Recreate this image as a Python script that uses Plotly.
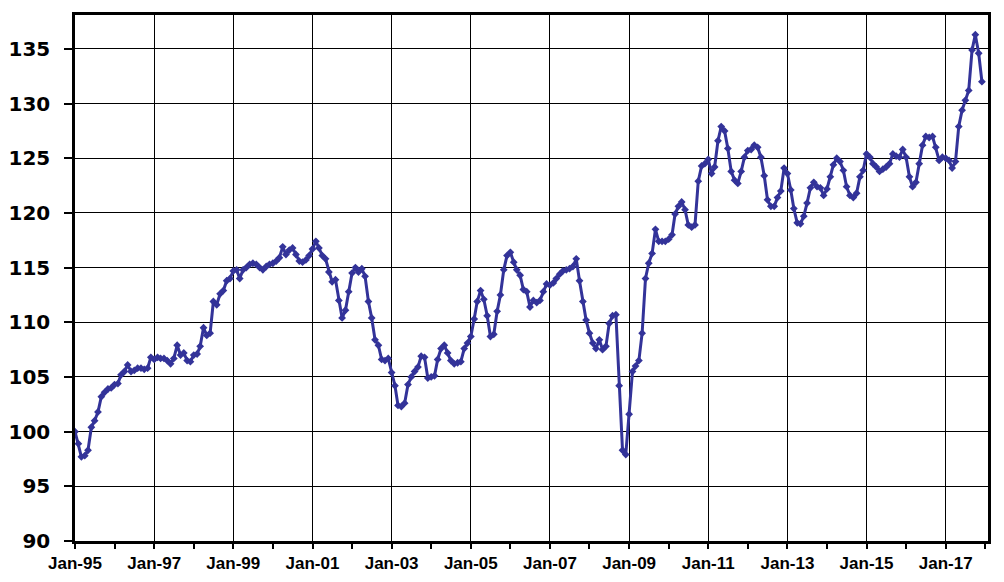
import pandas as pd
import plotly.graph_objects as go

start_month = "1995-01-01"

values_1995_1998 = [
    100.0, 98.9, 97.7, 97.8, 98.3, 100.4, 101.0, 101.8, 103.2, 103.6, 103.9, 104.0,
    104.3, 104.4, 105.2, 105.5, 106.1, 105.5, 105.6, 105.8, 105.8, 105.7, 105.8, 106.8,
    106.6, 106.8, 106.7, 106.7, 106.5, 106.2, 106.7, 107.9, 107.0, 107.2, 106.5, 106.4,
    107.0, 107.1, 107.8, 109.5, 108.8, 109.0, 111.9, 111.6, 112.6, 112.9, 113.8, 114.0,
]
values_1999_2002 = [
    114.7, 114.8, 114.0, 114.8, 115.0, 115.3, 115.4, 115.3, 115.0, 114.8, 115.1, 115.3,
    115.4, 115.6, 115.9, 116.9, 116.2, 116.6, 116.8, 116.2, 115.6, 115.5, 115.7, 116.1,
    116.7, 117.4, 116.8, 116.1, 115.8, 114.6, 113.7, 113.9, 112.0, 110.4, 111.1, 112.8,
    114.5, 115.0, 114.6, 114.9, 114.2, 111.9, 110.4, 108.4, 107.9, 106.6, 106.5, 106.7,
]
values_2003_2006 = [
    105.4, 104.2, 102.4, 102.3, 102.6, 104.3, 105.0, 105.5, 105.9, 106.9, 106.8, 104.9,
    105.0, 105.1, 106.6, 107.6, 107.9, 107.2, 106.5, 106.2, 106.3, 106.4, 107.6, 108.1,
    108.7, 110.3, 111.9, 112.9, 112.1, 110.6, 108.7, 108.9, 111.0, 112.5, 114.8, 116.1,
    116.4, 115.5, 114.8, 114.3, 113.0, 112.8, 111.4, 112.0, 111.8, 112.0, 112.8, 113.5,
]
values_2007_2010 = [
    113.4, 113.6, 114.0, 114.4, 114.7, 114.8, 114.9, 115.1, 115.8, 113.8, 111.9, 110.2,
    109.0, 108.1, 107.6, 108.4, 107.5, 107.8, 109.9, 110.6, 110.7, 104.2, 98.3, 97.9,
    101.6, 105.5, 106.0, 106.5, 109.0, 114.0, 115.4, 116.3, 118.5, 117.4, 117.4, 117.4,
    117.6, 118.0, 119.9, 120.6, 121.0, 120.3, 118.9, 118.7, 118.9, 122.9, 124.3, 124.5,
]
values_2011_2014 = [
    124.9, 123.6, 124.2, 126.6, 127.9, 127.5, 125.9, 123.8, 123.0, 122.7, 123.8, 125.1,
    125.7, 125.8, 126.2, 126.0, 125.1, 123.4, 121.2, 120.6, 120.6, 121.4, 122.0, 124.1,
    123.6, 122.1, 120.4, 119.1, 119.0, 119.7, 120.9, 122.3, 122.8, 122.4, 122.3, 121.6,
    122.2, 123.3, 124.4, 125.0, 124.7, 123.9, 122.4, 121.6, 121.4, 121.8, 123.3, 123.9,
]
values_2015_2017 = [
    125.4, 125.1, 124.5, 124.2, 123.8, 124.0, 124.2, 124.5, 125.4, 125.2, 125.1, 125.8,
    125.1, 123.3, 122.4, 122.8, 124.5, 126.2, 127.0, 126.9, 127.0, 126.0, 124.8, 125.1,
    125.0, 124.8, 124.1, 124.7, 127.9, 129.4, 130.3, 131.2, 134.9, 136.3, 134.6, 132.0,
]

values = (values_1995_1998 + values_1999_2002 + values_2003_2006
          + values_2007_2010 + values_2011_2014 + values_2015_2017)
months = pd.date_range(start_month, periods=len(values), freq="MS")

y_ticks = [90, 95, 100, 105, 110, 115, 120, 125, 130, 135]

color = "#333399"

fig = go.Figure(
    go.Scatter(
        x=months,
        y=values,
        mode="lines+markers",
        line=dict(color=color, width=3),
        marker=dict(symbol="diamond", size=6, color=color),
        showlegend=False,
        hoverinfo="x+y",
    )
)

# page body has an 8px default margin; compensate so the plot lands where the reference has it
fig.update_layout(
    width=996,
    height=574,
    margin=dict(l=67, r=16, t=7, b=41, autoexpand=False),
    paper_bgcolor="white",
    plot_bgcolor="white",
    font=dict(family="Liberation Sans, Arial, sans-serif", color="black"),
)

fig.update_xaxes(
    type="date",
    range=["1995-01-01", "2018-01-26"],
    tick0="1995-01-01",
    dtick="M24",
    tickformat="%b-%y",
    ticks="outside",
    ticklen=5,
    tickwidth=1.5,
    tickcolor="black",
    tickfont=dict(family="Liberation Sans, Arial, sans-serif", size=17, color="black", weight="bold"),
    showgrid=True,
    gridcolor="black",
    gridwidth=1,
    showline=True,
    linecolor="black",
    linewidth=2.5,
    mirror=True,
    zeroline=False,
    minor=dict(dtick="M12", tick0="1995-01-01", ticks="outside", ticklen=5,
               tickwidth=1.5, tickcolor="black", showgrid=False),
)

fig.update_yaxes(
    range=[90, 138.1],
    tickvals=y_ticks,
    ticks="outside",
    ticklen=8,
    tickwidth=1.5,
    tickcolor="black",
    ticklabelstandoff=10,
    tickfont=dict(family="DejaVu Sans, sans-serif", size=20, color="black", weight="bold"),
    showgrid=True,
    gridcolor="black",
    gridwidth=1,
    showline=True,
    linecolor="black",
    linewidth=2.5,
    mirror=True,
    zeroline=False,
)

fig.write_html("out.html")
